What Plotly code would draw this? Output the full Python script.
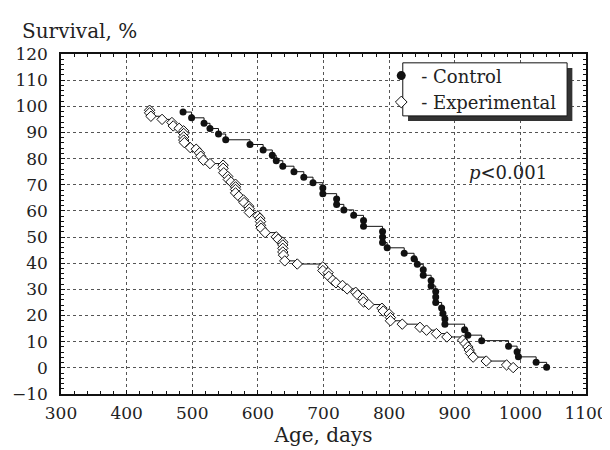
import plotly.graph_objects as go

# Control group (filled circles): age at death, days / survival, %
control_days = [486, 499, 518, 527, 540, 551, 588, 608, 622, 628, 638, 655, 670, 684,
                699, 699, 720, 720, 731, 746, 761, 761, 790, 790, 790, 797, 823, 838,
                843, 852, 852, 864, 864, 871, 871, 871, 880, 882, 885, 885, 915, 920,
                941, 982, 995, 997, 1024, 1040]
control_surv = [97.8, 95.6, 93.5, 91.5, 89.4, 87.2, 85.4, 83.3, 81.3, 79.2, 77.1, 75.0,
                72.9, 70.8, 68.8, 66.6, 64.6, 62.5, 60.4, 58.3, 56.3, 54.1, 52.1, 50.0,
                47.9, 45.9, 43.8, 41.7, 39.6, 37.5, 35.4, 33.4, 31.3, 29.2, 27.1, 25.0,
                22.9, 20.8, 18.7, 16.7, 14.6, 12.5, 10.4, 8.3, 6.2, 4.2, 2.1, 0.2]

# Experimental group (open diamonds)
exp_days = [435, 435, 437, 454, 469, 471, 480, 487, 487, 487, 487, 488, 497, 506, 511,
            513, 517, 527, 547, 547, 548, 554, 555, 559, 566, 566, 566, 566, 571, 578,
            579, 586, 587, 587, 600, 603, 604, 604, 605, 611, 628, 631, 638, 638, 638,
            638, 639, 641, 660, 699, 699, 707, 708, 714, 719, 729, 736, 749, 752, 760,
            761, 769, 789, 791, 800, 802, 802, 820, 847, 857, 872, 888, 912, 916, 920,
            922, 924, 928, 948, 979, 989]
exp_surv = [98.5, 97.5, 96.2, 95.0, 93.8, 92.5, 91.6, 90.6, 89.6, 88.3, 87.1, 86.1, 84.2,
            83.6, 82.2, 80.9, 79.4, 78.1, 77.5, 76.3, 74.6, 73.2, 72.0, 71.1, 70.2, 69.2,
            68.2, 66.9, 65.6, 64.2, 63.2, 61.8, 60.8, 59.4, 58.1, 57.2, 55.9, 54.5, 53.4,
            51.7, 50.1, 49.2, 48.0, 47.0, 45.7, 44.3, 43.1, 40.9, 39.7, 38.6, 37.2, 36.4,
            35.0, 33.5, 32.5, 31.5, 30.2, 28.9, 27.9, 26.6, 25.2, 24.2, 22.8, 21.7, 20.6,
            19.2, 18.0, 16.7, 15.5, 14.4, 13.1, 11.8, 10.6, 9.3, 8.0, 6.8, 5.5, 4.1, 2.6,
            1.1, 0.1]

x_ticks = [300, 400, 500, 600, 700, 800, 900, 1000, 1100]
y_ticks = [-10, 0, 10, 20, 30, 40, 50, 60, 70, 80, 90, 100, 110, 120]

FONT = "DejaVu Serif"
TXT = "#222222"

fig = go.Figure()

fig.add_trace(go.Scatter(
    x=exp_days, y=exp_surv, mode="lines+markers", line_shape="hv",
    line=dict(color="#111111", width=1),
    marker=dict(symbol="diamond", size=8, color="white",
                line=dict(color="#111111", width=1)),
    showlegend=False))
fig.add_trace(go.Scatter(
    x=control_days, y=control_surv, mode="lines+markers", line_shape="hv",
    line=dict(color="#111111", width=1),
    marker=dict(symbol="circle", size=7, color="#111111"),
    showlegend=False))

fig.add_trace(go.Scatter(x=[None], y=[None], mode="markers", name="- Control",
                         marker=dict(symbol="circle", size=9, color="#111111")))
fig.add_trace(go.Scatter(x=[None], y=[None], mode="markers", name="- Experimental",
                         marker=dict(symbol="diamond", size=9, color="white",
                                     line=dict(color="#111111", width=1))))

axis_common = dict(
    showgrid=True, gridcolor="#555555", griddash="dot", gridwidth=1,
    showline=True, linecolor="#111111", linewidth=1.5, mirror="allticks",
    ticks="inside", ticklen=4, tickcolor="#111111", zeroline=False,
    tickfont=dict(family=FONT, size=17, color=TXT),
)

fig.update_xaxes(range=[300, 1100], tickvals=x_ticks,
                 minor=dict(dtick=20, tick0=300, ticks="inside", ticklen=3,
                            tickcolor="#111111", showgrid=False),
                 ticklabelstandoff=3,
                 title=dict(text="Age, days", font=dict(family=FONT, size=20, color=TXT),
                            standoff=4),
                 automargin=False, **axis_common)
fig.update_yaxes(range=[-10, 120], tickvals=y_ticks,
                 minor=dict(dtick=2, tick0=0, ticks="inside", ticklen=3,
                            tickcolor="#111111", showgrid=False),
                 ticklabelstandoff=8,
                 automargin=False, **axis_common)

# legend frame with drop shadow
fig.add_shape(type="rect", xref="paper", yref="paper", x0=0.661, x1=0.974, y0=0.803, y1=0.959,
              fillcolor="#333333", line=dict(width=0), layer="above")
fig.add_shape(type="rect", xref="paper", yref="paper", x0=0.651, x1=0.964, y0=0.818, y1=0.974,
              fillcolor="white", line=dict(color="#111111", width=1), layer="above")

fig.add_annotation(x=981, y=74.7, xref="x", yref="y", text="<i>p</i>&lt;0.001",
                   showarrow=False, font=dict(family=FONT, size=18, color=TXT))
fig.add_annotation(x=-0.078, y=1.068, xref="paper", yref="paper", text="Survival, %",
                   xanchor="left", yanchor="middle", showarrow=False,
                   font=dict(family=FONT, size=20, color=TXT))

fig.update_layout(
    width=610, height=450,
    margin=dict(l=53, r=32, t=46, b=64),
    paper_bgcolor="white", plot_bgcolor="white",
    font=dict(family=FONT, color=TXT),
    legend=dict(x=0.61, y=0.99, xanchor="left", yanchor="top",
                bgcolor="rgba(0,0,0,0)", borderwidth=0,
                font=dict(family=FONT, size=18, color=TXT),
                itemwidth=30, tracegroupgap=0),
)

fig.write_html("out.html")
